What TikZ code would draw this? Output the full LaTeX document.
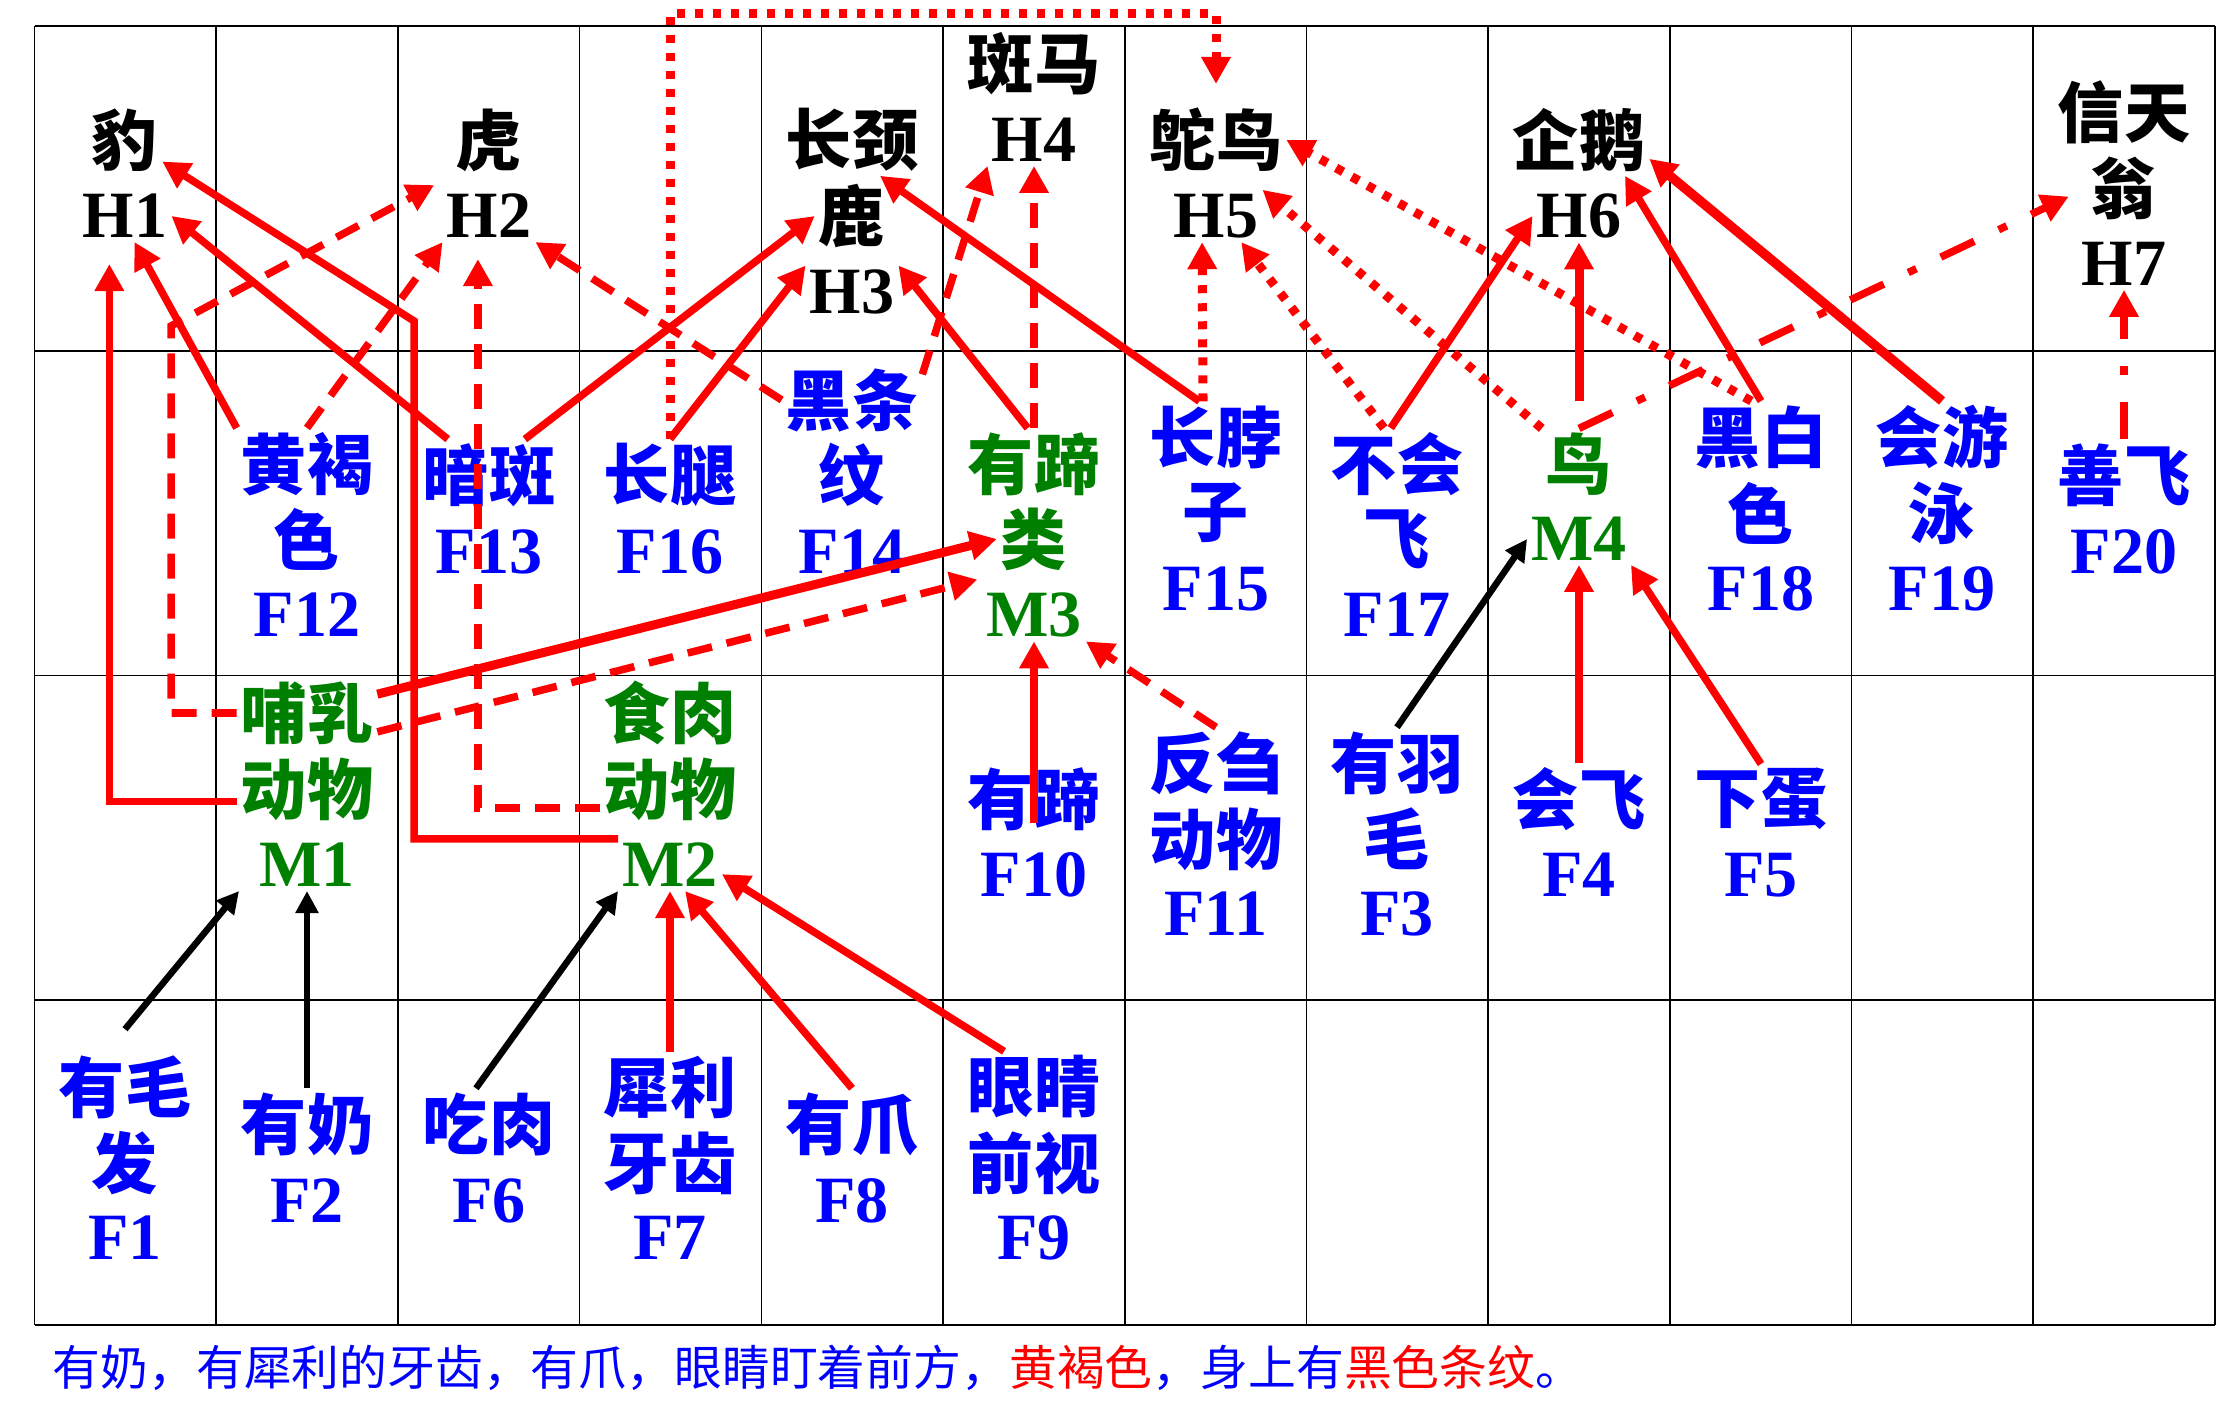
\documentclass[tikz,border=0pt]{standalone}
\usepackage{fontspec}
\setmainfont{Liberation Serif}
\newfontfamily\cjk{Noto Sans CJK SC}
\usetikzlibrary{arrows.meta}
\definecolor{vert}{RGB}{0,128,0}

\tikzset{
  zi/.style={font=\cjk\bfseries\fontsize{18.8}{21}\selectfont, inner sep=1pt},
  hao/.style={font=\bfseries\fontsize{18.8}{21}\selectfont, inner sep=1pt},
  nomH/.style={zi, text=black},
  codeH/.style={hao, text=black},
  nomF/.style={zi, text=blue},
  codeF/.style={hao, text=blue},
  nomM/.style={zi, text=vert},
  codeM/.style={hao, text=vert},
  legende/.style={font=\cjk\fontsize{13.6}{16}\selectfont, inner sep=0pt},
  grille/.style={black, line width=0.45pt},
  plein/.style={red, line width=0.075cm, -{Triangle[length=0.27cm, width=0.28cm]}},
  tirets/.style={plein, dash pattern=on 0.25cm off 0.15cm},
  points/.style={plein, line width=0.09cm, dash pattern=on 0.08cm off 0.1cm},
  tiretpoint/.style={plein, dash pattern=on 0.37cm off 0.27cm on 0.09cm off 0.27cm},
  noir/.style={black, line width=0.065cm, -{Triangle[length=0.22cm, width=0.22cm]}}
}

\begin{document}
\begin{tikzpicture}[x=0.01cm, y=-0.01cm]

  \useasboundingbox (0,0) rectangle (2237,1419);

  % Grille
  \foreach \i in {0,...,12}
    \draw[grille] (34.5+181.7*\i,26) -- (34.5+181.7*\i,1325);
  \foreach \j in {0,...,4}
    \draw[grille] (34.5,26+324.75*\j) -- (2215,26+324.75*\j);

  % Hypotheses H1 ... H7
  \node[nomH] (h1a) at (125,140) {豹};
  \node[codeH] (h1) at (125,216) {H1};
  \node[nomH] (h2a) at (489,140) {虎};
  \node[codeH] (h2) at (489,216) {H2};
  \node[nomH] (h3a) at (852,140) {长颈};
  \node[nomH] (h3b) at (852,216) {鹿};
  \node[codeH] (h3) at (852,292) {H3};
  \node[nomH] (h4a) at (1034,64) {斑马};
  \node[codeH] (h4) at (1034,140) {H4};
  \node[nomH] (h5a) at (1216,140) {鸵鸟};
  \node[codeH] (h5) at (1216,216) {H5};
  \node[nomH] (h6a) at (1579,140) {企鹅};
  \node[codeH] (h6) at (1579,216) {H6};
  \node[nomH] (h7a) at (2124,112) {信天};
  \node[nomH] (h7b) at (2124,188) {翁};
  \node[codeH] (h7) at (2124,264) {H7};

  % Ligne 2
  \node[nomF] (f12a) at (307,464) {黄褐};
  \node[nomF] (f12b) at (307,539) {色};
  \node[codeF] (f12) at (307,615) {F12};
  \node[nomF] (f13a) at (489,475) {暗斑};
  \node[codeF] (f13) at (489,552) {F13};
  \node[nomF] (f16a) at (670,475) {长腿};
  \node[codeF] (f16) at (670,552) {F16};
  \node[nomF] (f14a) at (852,400) {黑条};
  \node[nomF] (f14b) at (852,475) {纹};
  \node[codeF] (f14) at (852,552) {F14};
  \node[nomM] (m3a) at (1034,464) {有蹄};
  \node[nomM] (m3b) at (1034,539) {类};
  \node[codeM] (m3) at (1034,615) {M3};
  \node[nomF] (f15a) at (1216,437) {长脖};
  \node[nomF] (f15b) at (1216,513) {子};
  \node[codeF] (f15) at (1216,589) {F15};
  \node[nomF] (f17a) at (1397,464) {不会};
  \node[nomF] (f17b) at (1397,539) {飞};
  \node[codeF] (f17) at (1397,615) {F17};
  \node[nomM] (m4a) at (1579,464) {鸟};
  \node[codeM] (m4) at (1579,539) {M4};
  \node[nomF] (f18a) at (1761,437) {黑白};
  \node[nomF] (f18b) at (1761,513) {色};
  \node[codeF] (f18) at (1761,589) {F18};
  \node[nomF] (f19a) at (1942,437) {会游};
  \node[nomF] (f19b) at (1942,513) {泳};
  \node[codeF] (f19) at (1942,589) {F19};
  \node[nomF] (f20a) at (2124,475) {善飞};
  \node[codeF] (f20) at (2124,552) {F20};

  % Ligne 3
  \node[nomM] (m1a) at (307,713) {哺乳};
  \node[nomM] (m1b) at (307,789) {动物};
  \node[codeM] (m1) at (307,865) {M1};
  \node[nomM] (m2a) at (670,713) {食肉};
  \node[nomM] (m2b) at (670,789) {动物};
  \node[codeM] (m2) at (670,865) {M2};
  \node[nomF] (f10a) at (1034,799) {有蹄};
  \node[codeF] (f10) at (1034,875) {F10};
  \node[nomF] (f11a) at (1216,763) {反刍};
  \node[nomF] (f11b) at (1216,839) {动物};
  \node[codeF] (f11) at (1216,914) {F11};
  \node[nomF] (f3a) at (1397,763) {有羽};
  \node[nomF] (f3b) at (1397,839) {毛};
  \node[codeF] (f3) at (1397,914) {F3};
  \node[nomF] (f4a) at (1579,799) {会飞};
  \node[codeF] (f4) at (1579,875) {F4};
  \node[nomF] (f5a) at (1761,799) {下蛋};
  \node[codeF] (f5) at (1761,875) {F5};

  % Ligne 4
  \node[nomF] (f1a) at (125,1087) {有毛};
  \node[nomF] (f1b) at (125,1163) {发};
  \node[codeF] (f1) at (125,1238) {F1};
  \node[nomF] (f2a) at (307,1124) {有奶};
  \node[codeF] (f2) at (307,1201) {F2};
  \node[nomF] (f6a) at (489,1124) {吃肉};
  \node[codeF] (f6) at (489,1201) {F6};
  \node[nomF] (f7a) at (670,1087) {犀利};
  \node[nomF] (f7b) at (670,1163) {牙齿};
  \node[codeF] (f7) at (670,1238) {F7};
  \node[nomF] (f8a) at (852,1124) {有爪};
  \node[codeF] (f8) at (852,1201) {F8};
  \node[nomF] (f9a) at (1034,1087) {眼睛};
  \node[nomF] (f9b) at (1034,1163) {前视};
  \node[codeF] (f9) at (1034,1238) {F9};

  % Legende
  \node[legende, anchor=west] (note) at (52,1368) {\textcolor{blue}{有奶，有犀利的牙齿，有爪，眼睛盯着前方，}\textcolor{red}{黄褐色}\textcolor{blue}{，身上有}\textcolor{red}{黑色条纹}\textcolor{blue}{。}};

  % Faits -> M1, M2
  \draw[noir] ([yshift=0.22cm]f1a.north) -- ([xshift=-0.16cm]m1.south west);
  \draw[noir] (f2a.north) -- (m1.south);
  \draw[noir] (f6a.110) -- (m2.south west);
  \draw[plein] (f7a.north) -- (m2.south);
  \draw[plein] (f8a.north) -- (m2.-60);
  \draw[plein] (f9a.130) -- (m2.-10);

  % Faits -> M3, M4
  \draw[plein, line width=0.09cm] (m1a.15) -- (m3b.west);
  \draw[tirets, shorten >=0.2cm] (m1a.-15) -- (m3b.south west);
  \draw[plein, shorten <=0.12cm] (f10a.south) -- (m3.south);
  \draw[tirets] (f11a.north) -- (m3.south east);
  \draw[noir] (f3a.north) -- (m4.west);
  \draw[plein] (f4a.north) -- (m4.south);
  \draw[plein] (f5a.north) -- (m4.south east);

  % vers H1, H2
  \draw[plein, shorten >=0.22cm] (m1b.-170) -| (h1.-121);
  \draw[plein] (m2.north west) -| (414,321) -- (h1a.-30);
  \draw[tirets, shorten >=0.2cm] (m1a.west) -| (171,326) -- (h2a.south west);
  \draw[tirets, shorten >=0.17cm] (m2b.-165) -| (h2.-113);
  \draw[plein] (f12a.north west) -- (h1.-70);
  \draw[tirets] (f12a.north) -- (h2.south west);
  \draw[plein] (f13a.139) -- (h1.east);
  \draw[tirets] (f14a.west) -- (h2.south east);

  % vers H3, H4
  \draw[plein] (f13a.45) -- (h3b.west);
  \draw[plein] (f16a.north) -- (h3.north west);
  \draw[plein] (m3a.100) -- (h3.north east);
  \draw[plein] (f15a.115) -- (h3a.-52);
  \draw[tirets] (f14a.20) -- (h4.south west);
  \draw[tirets] (m3a.north) -- (h4.south);

  % vers H5
  \draw[points, shorten >=0.2cm] (f16a.north) -- (f16a.north |- 0,14) -| (h5a.north);
  \draw[points] (f15a.110) -- (h5.-118);
  \draw[points] (f17a.110) -- (h5.-46);
  \draw[points] (m4a.north west) -- (h5.north east);
  \draw[points] (f18a.105) -- (h5a.east);

  % vers H6, H7
  \draw[plein] (f17a.100) -- (h6.west);
  \draw[plein, line width=0.09cm] ([yshift=0.27cm]m4a.north) -- (h6.south);
  \draw[plein] (f18a.north) -- (h6a.-38);
  \draw[plein, line width=0.095cm] (f19a.north) -- (h6a.-15);
  \draw[tiretpoint, shorten >=0.2cm] (m4a.north) -- (h7b.west);
  \draw[tiretpoint] (f20a.north) -- (h7.south);

\end{tikzpicture}
\end{document}
